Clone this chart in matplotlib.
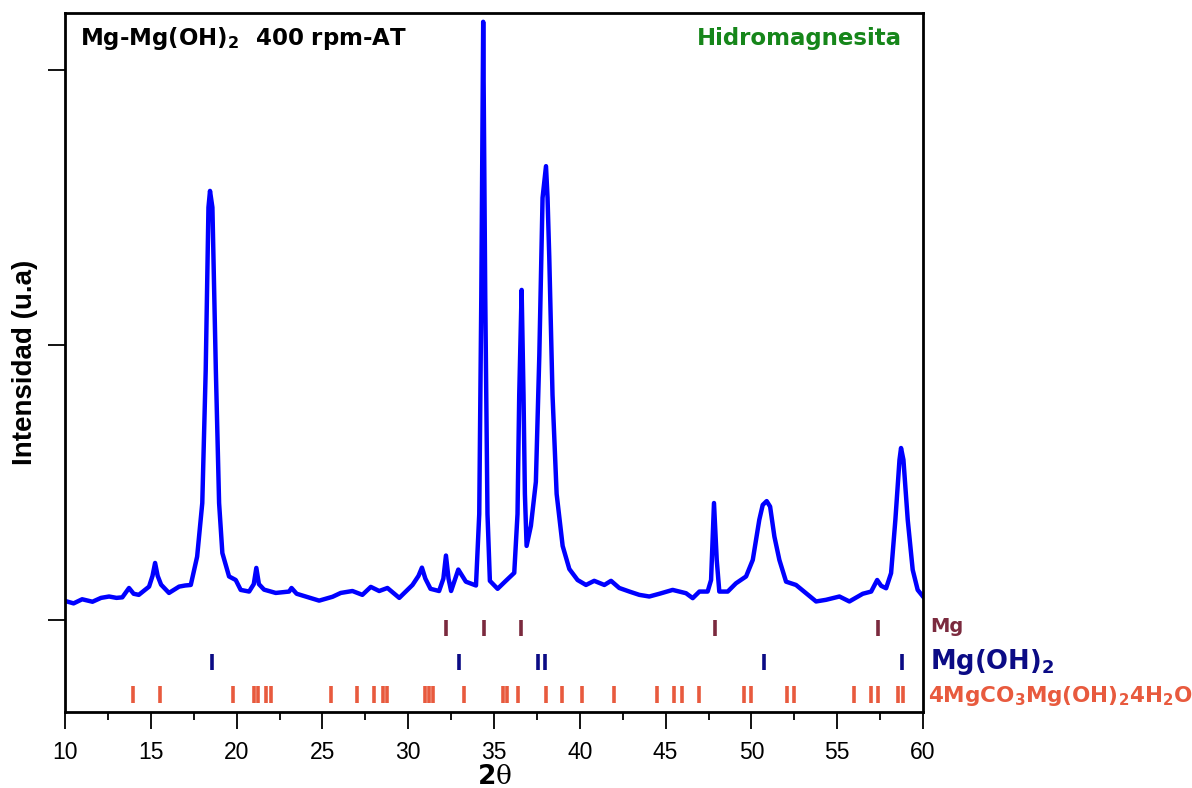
import matplotlib
matplotlib.use("Agg")
import matplotlib.pyplot as plt

plt.rcParams['font.family'] = ['Liberation Sans', 'DejaVu Sans']
plt.rcParams['mathtext.fontset'] = 'custom'
plt.rcParams['mathtext.rm'] = 'DejaVu Sans'
plt.rcParams['mathtext.bf'] = 'DejaVu Sans:bold'

two_theta = [10.0, 10.5, 11.0, 11.6, 12.1, 12.57, 13.0, 13.34, 13.73, 14.0, 14.3, 14.9, 15.1, 15.25,
             15.4, 15.6, 16.06, 16.65, 17.0, 17.33, 17.7, 18.0, 18.2, 18.36, 18.45, 18.59, 18.79,
             18.98, 19.17, 19.56, 19.95, 20.24, 20.73, 21.0, 21.15, 21.3, 21.6, 22.28, 23.06, 23.2,
             23.5, 24.03, 24.81, 25.59, 26.07, 26.75, 27.33, 27.82, 28.31, 28.79, 29.48, 30.25, 30.6,
             30.8, 31.0, 31.3, 31.8, 32.05, 32.2, 32.35, 32.5, 32.92, 33.36, 33.95, 34.14, 34.26,
             34.37, 34.49, 34.62, 34.76, 35.21, 35.69, 36.18, 36.37, 36.47, 36.61, 36.72, 36.8, 36.9,
             37.15, 37.44, 37.64, 37.83, 38.03, 38.12, 38.22, 38.41, 38.65, 39.0, 39.39, 39.87, 40.36,
             40.84, 41.43, 41.82, 42.3, 42.89, 43.47, 44.05, 44.64, 45.41, 46.19, 46.58, 46.97, 47.45,
             47.65, 47.82, 47.98, 48.13, 48.62, 49.1, 49.69, 50.08, 50.27, 50.46, 50.66, 50.89, 51.09,
             51.34, 51.63, 52.02, 52.6, 53.19, 53.77, 54.35, 55.13, 55.71, 56.49, 56.98, 57.33, 57.56,
             57.85, 58.14, 58.39, 58.63, 58.72, 58.86, 59.11, 59.4, 59.69, 60.0]
intensity = [69, 60, 75, 66, 80, 85, 80, 82, 116, 95, 91, 121, 160, 207,
             160, 128, 98, 121, 125, 127, 230, 425, 909, 1500, 1560, 1500, 909,
             425, 243, 158, 145, 109, 103, 130, 189, 130, 110, 98, 103, 116,
             95, 85, 70, 84, 98, 105, 91, 120, 105, 116, 80, 127, 160,
             190, 150, 113, 105, 150, 234, 150, 105, 183, 139, 125, 385, 1176,
             2175, 1176, 385, 142, 113, 142, 171, 385, 818, 1200, 818, 458, 269,
             342, 502, 960, 1535, 1650, 1535, 1320, 818, 458, 269, 185, 145, 127,
             142, 127, 142, 116, 103, 91, 85, 95, 109, 97, 79, 103, 103,
             145, 425, 218, 103, 103, 133, 158, 218, 291, 364, 418, 432, 412,
             303, 218, 139, 127, 97, 67, 73, 85, 67, 95, 103, 145, 124,
             115, 170, 364, 582, 625, 582, 364, 182, 109, 85]

mg_pos = [32.2, 34.4, 36.6, 47.85, 57.4]
mgoh2_pos = [18.55, 32.95, 37.55, 38.0, 50.75, 58.8]
hydro_pos = [13.98, 15.52, 19.78, 20.99, 21.24, 21.72, 21.99, 25.49, 27.01, 27.99, 28.51, 28.76,
             30.97, 31.22, 31.47, 33.24, 35.51, 35.76, 36.40, 38.01, 38.99, 40.11, 42.0, 44.48,
             45.47, 45.97, 46.96, 49.54, 49.98, 52.07, 52.49, 55.99, 56.98, 57.36, 58.57, 58.85]

x_ticks = [10, 15, 20, 25, 30, 35, 40, 45, 50, 55, 60]

fig = plt.figure(figsize=(11.92, 7.88), dpi=100)
ax = fig.add_axes([65/1192, 1-712/788, (923-65)/1192, (712-13)/788])

ax.plot(two_theta, intensity, color='#0000ff', lw=3.2, solid_joinstyle='round')

ax.vlines(mg_pos, -58, 0, color='#7b2a3e', lw=2.6)
ax.vlines(mgoh2_pos, -182, -124, color='#0b0b85', lw=2.6)
ax.vlines(hydro_pos, -302, -240, color='#e85a3e', lw=2.6)

ax.set_xlim(10, 60)
ax.set_ylim(-335, 2207)
ax.set_xticks(x_ticks)
ax.set_xticks([12.5 + 5*i for i in range(10)], minor=True)
ax.set_yticks([0, 1000, 2000])
ax.set_yticklabels([])
ax.tick_params(axis='x', which='major', direction='out', length=12, width=1.3,
               labelsize=16.5, pad=9)
ax.tick_params(axis='x', which='minor', direction='out', length=6, width=1.3)
ax.tick_params(axis='y', which='major', direction='out', length=12, width=1.3)
for s in ax.spines.values():
    s.set_linewidth(2)

ax.set_ylabel('Intensidad (u.a)', fontsize=20, fontweight='bold', va='center')
ax.yaxis.set_label_coords(-40/858, 0.5)
ax.set_xlabel(r'$\mathbf{2}$' + 'θ', fontsize=19, va='center',
              family=['DejaVu Serif', 'DejaVu Sans'])
ax.xaxis.set_label_coords(0.5, (712-776)/699)

bold_wide = dict(family='DejaVu Sans', fontweight='bold')
ax.text(0.017, 0.964, r'Mg-Mg(OH)$_\mathbf{2}$  400 rpm-AT', transform=ax.transAxes,
        fontsize=16.5, ha='left', va='center', **bold_wide)
ax.text(0.975, 0.964, 'Hidromagnesita', transform=ax.transAxes, color='#16861a',
        fontsize=16.5, ha='right', va='center', **bold_wide)

ytr = ax.get_yaxis_transform()
ax.text(1.008, -25, 'Mg', transform=ytr, color='#7b2a3e',
        fontsize=14, ha='left', va='center', clip_on=False, **bold_wide)
ax.text(1.008, -153, r'Mg(OH)$_\mathbf{2}$', transform=ytr, color='#0b0b85',
        fontsize=18.5, ha='left', va='center', clip_on=False, **bold_wide)
ax.text(1.006, -275, r'4MgCO$_\mathbf{3}$Mg(OH)$_\mathbf{2}$4H$_\mathbf{2}$O',
        transform=ytr, color='#e85a3e',
        fontsize=15.5, ha='left', va='center', clip_on=False, **bold_wide)

fig.savefig('out.png', dpi=100)
